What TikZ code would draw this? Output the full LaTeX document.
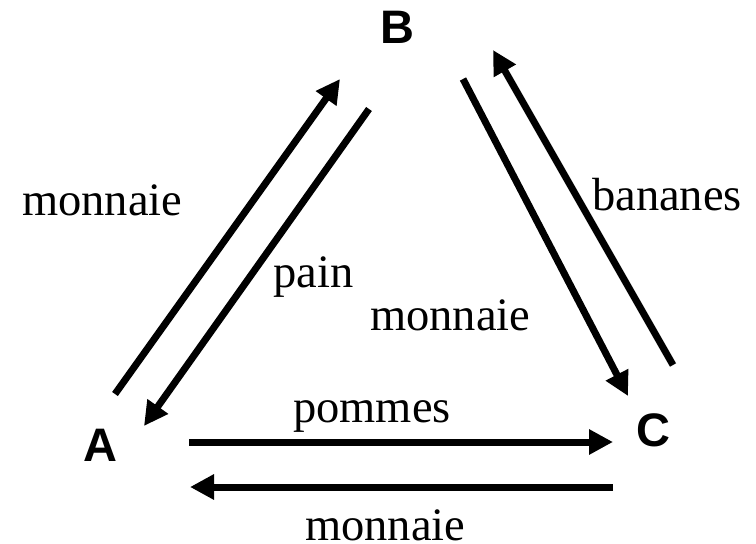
\documentclass[tikz,border=0pt]{standalone}
\usepackage{fontspec}
\setmainfont{Liberation Serif}
\newfontfamily\labfont{Liberation Sans}
\usetikzlibrary{arrows.meta}
\begin{document}
\begin{tikzpicture}[x=1pt,y=-1pt,
  flow/.style={line width=7pt, -{Triangle[length=24pt,width=24pt]}},
  word/.style={inner sep=0pt, anchor=base west, font=\fontsize{46.5}{50}\selectfont},
  party/.style={inner sep=0pt, font=\labfont\bfseries\fontsize{47}{50}\selectfont}]
\useasboundingbox (0,0) rectangle (756,544);
% parties
\node[party] (B) at (397,27) {B};
\node[party] (A) at (100,445) {A};
\node[party] (C) at (653,430) {C};
% arrow end points
\coordinate (ab1) at (115,394);
\coordinate (ab2) at (340,79);
\coordinate (ba1) at (369,109);
\coordinate (ba2) at (144,426);
\coordinate (bc1) at (463,79);
\coordinate (bc2) at (628,396);
\coordinate (cb1) at (673,365);
\coordinate (cb2) at (493,50);
\coordinate (ac1) at (189,442);
\coordinate (ac2) at (613,442);
\coordinate (ca1) at (613,487);
\coordinate (ca2) at (190,487);
% arrows
\draw[flow] (ab1) -- (ab2);
\draw[flow] (ba1) -- (ba2);
\draw[flow] (bc1) -- (bc2);
\draw[flow] (cb1) -- (cb2);
\draw[flow] (ac1) -- (ac2);
\draw[flow] (ca1) -- (ca2);
% labels
\node[word] (l1) at (22,215) {monnaie};
\node[word] (l2) at (273,287) {pain};
\node[word] (l3) at (370,330) {monnaie};
\node[word] (l4) at (592,210) {bananes};
\node[word] (l5) at (293,422) {pommes};
\node[word] (l6) at (305,540) {monnaie};
\end{tikzpicture}
\end{document}
